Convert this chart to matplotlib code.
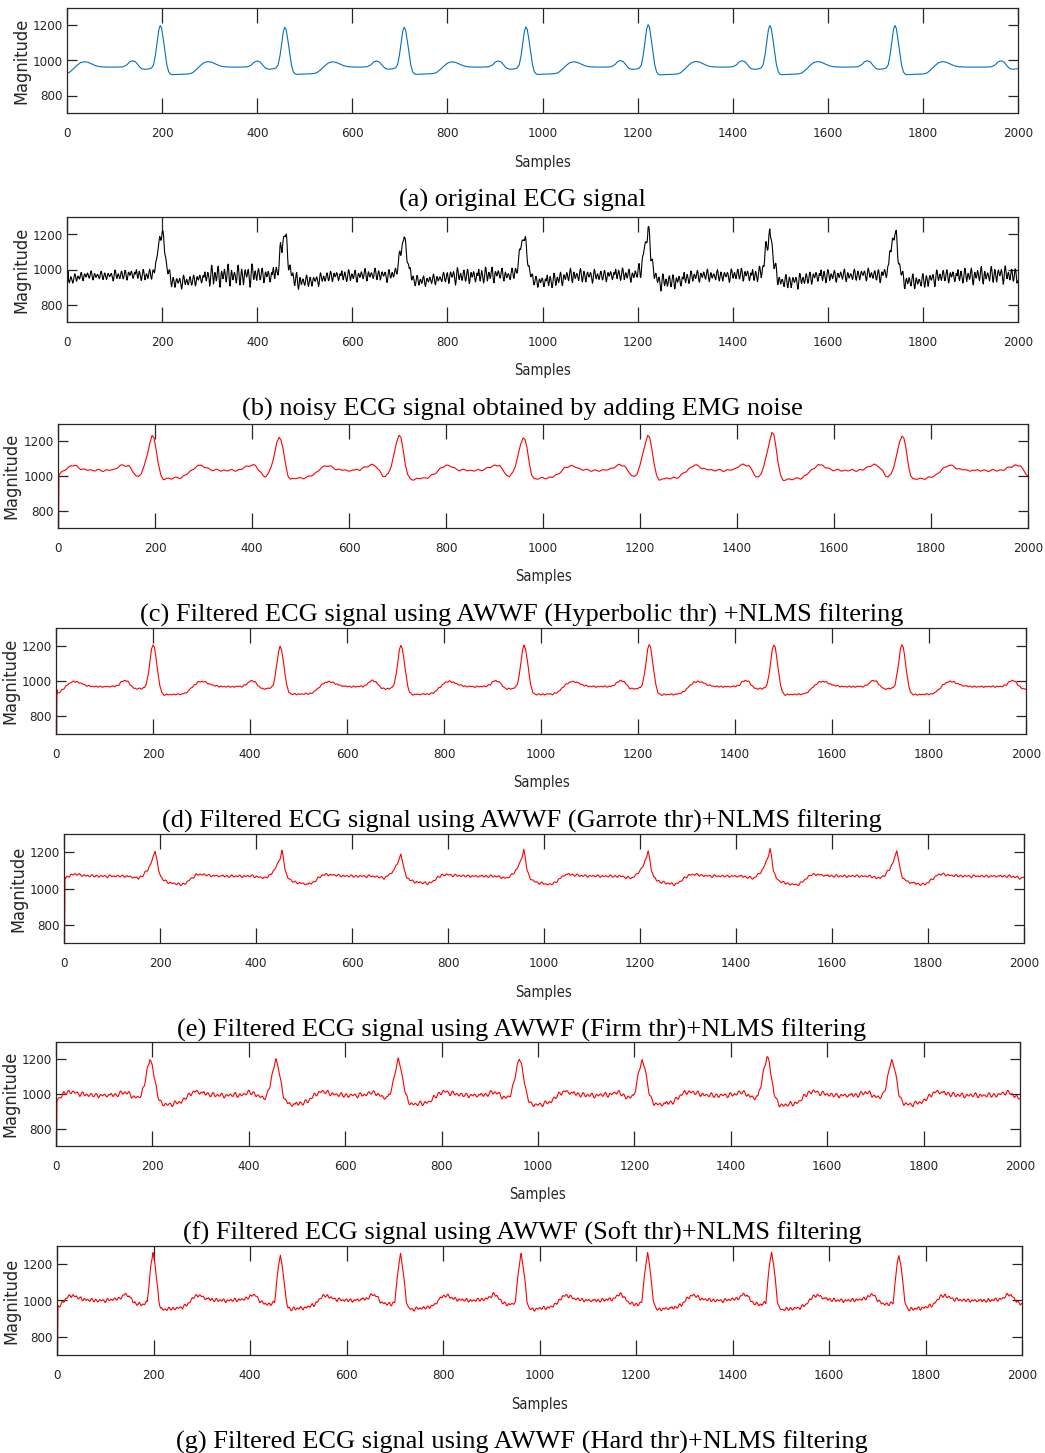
import os
import numpy as np
import matplotlib
matplotlib.use("Agg")
import matplotlib.pyplot as plt
from matplotlib import font_manager as fm

# Figure geometry (pixels)
W, H = 1045, 1453
N = 2000
n = np.arange(N)

# R-peak sample positions and heights for each record
peaks_a = [-64, 196, 458, 709, 965, 1222, 1478, 1741, 2022]
rh_a = [1195, 1200, 1190, 1190, 1192, 1205, 1200, 1200, 1195]
peaks_b = [-64, 200, 458, 709, 961, 1222, 1478, 1741, 2025]
rh_b = [1225, 1230, 1215, 1190, 1210, 1225, 1220, 1230, 1225]
peaks_c = [-68, 194, 456, 703, 959, 1216, 1472, 1740, 2032]
rh_c = [1230, 1230, 1225, 1235, 1225, 1235, 1250, 1235, 1230]
peaks_d = [-62, 200, 462, 711, 965, 1223, 1480, 1744, 2030]
rh_d = [1205, 1208, 1195, 1202, 1202, 1207, 1207, 1207, 1205]
peaks_e = [-72, 190, 454, 702, 958, 1217, 1471, 1735, 2030]
rh_e = [1210, 1210, 1205, 1192, 1210, 1205, 1215, 1210, 1210]
peaks_f = [-67, 195, 456, 710, 961, 1216, 1475, 1734, 2025]
rh_f = [1200, 1200, 1195, 1195, 1205, 1195, 1215, 1195, 1200]
peaks_g = [-63, 199, 463, 712, 962, 1224, 1481, 1745, 2030]
rh_g = [1255, 1260, 1245, 1250, 1255, 1255, 1262, 1250, 1255]

# Single-beat shapes: offset from R peak (samples) and amplitude
off_a = [-95, -78, -70, -64, -58, -52, -46, -40, -34, -24, -18, -14, -10, -6, -3, 0, 3, 6,
         10, 14, 18, 22, 26, 32, 45, 60, 68, 76, 84, 92, 100, 108, 116, 124, 134, 150]
val_a = [962, 964, 975, 992, 998, 992, 972, 955, 950, 952, 958, 975, 1030, 1110, 1170, 1195, 1180, 1130,
         1050, 975, 935, 922, 920, 921, 922, 924, 930, 948, 970, 987, 993, 990, 980, 970, 964, 962]
off_b = [-95, -60, -30, -16, -12, -9, -6, -3, 0, 3, 6, 9, 12, 16, 20, 30, 60, 80, 100, 140]
val_b = [965, 975, 965, 990, 1040, 1120, 1140, 1170, 1225, 1180, 1090, 1030, 1000, 960, 935, 930, 935,
         950, 965, 965]
off_c = [-100, -80, -68, -58, -48, -40, -33, -28, -22, -16, -10, -5, 0, 4, 8, 13, 18, 23, 30, 45, 60,
         72, 84, 96, 106, 118, 132, 150]
val_c = [1032, 1036, 1055, 1062, 1058, 1030, 1000, 995, 1015, 1060, 1125, 1190, 1230, 1215, 1160, 1070,
         1005, 982, 983, 988, 992, 1010, 1040, 1062, 1055, 1040, 1033, 1032]
off_d = off_a
val_d = [968, 970, 980, 998, 1003, 997, 978, 960, 955, 957, 963, 980, 1035, 1115, 1180, 1208, 1190, 1135,
         1050, 975, 935, 924, 922, 923, 924, 926, 933, 952, 975, 992, 998, 994, 984, 975, 970, 968]
off_e = [-100, -60, -45, -35, -25, -15, -8, -3, 0, 3, 7, 12, 18, 25, 35, 45, 55, 65, 75, 85, 95, 120, 150]
val_e = [1068, 1068, 1062, 1056, 1075, 1105, 1145, 1180, 1210, 1170, 1100, 1062, 1045, 1035, 1030, 1025,
         1022, 1032, 1055, 1075, 1078, 1070, 1068]
off_f = [-100, -70, -55, -45, -35, -25, -18, -12, -6, 0, 5, 10, 15, 20, 25, 35, 50, 65, 75, 85, 95, 110,
         130, 150]
val_f = [992, 995, 1010, 1005, 985, 978, 992, 1050, 1140, 1200, 1165, 1080, 1000, 965, 945, 937, 945, 955,
         980, 1005, 1015, 1005, 995, 992]
off_g = [-100, -70, -58, -50, -40, -30, -20, -12, -8, -4, 0, 4, 8, 12, 16, 22, 35, 55, 70, 85, 95, 110,
         130, 150]
val_g = [1000, 1010, 1035, 1025, 990, 980, 978, 992, 1100, 1200, 1255, 1200, 1100, 1000, 960, 950, 955,
         960, 975, 1020, 1030, 1010, 1002, 1000]

# EMG-like disturbance pattern (arbitrary units, about +-10)
emg_noise = [0, 5, 8, 3, -4, -7, -3, 2, 6, 4, -1, -6, -10, -8, -2, 5, 10, 9, 3, -4, -8, -5, 0, 3,
             2, -2, -5, -3, 2, 7, 9, 5, -3, -9, -11, -6, 1, 4, 3, -1, -3, -1, 3, 6, 4, 0, -4, -6,
             -2, 4, 9, 11, 6, -2, -8, -10, -5, 2, 5, 3, -2, -4, -2, 1, 3, 2, -1, -4, -7, -4, 3, 8,
             10, 6, -1, -7, -9, -4, 2, 6, 5, 0, -6, -9, -6, 0, 4, 5, 2, -1, -2, 0, 3, 5, 3, -2,
             -8, -12, -9, -1, 6, 10, 8, 2, -3, -5, -2, 2, 3, 0, -4, -6, -3, 2, 6, 7, 3, -3, -7, -6,
             -1, 4, 8, 7, 2, -5, -10, -8, -2, 3, 4, 1, -2, -1, 2, 5, 4, 0, -5, -8, -6, -1, 3, 2]
# noise envelope of the noisy record, per 100 samples
env_b = [25, 32, 36, 60, 45, 34, 34, 30, 45, 34, 40, 36, 45, 34, 40, 40, 34, 40, 42, 48]

# first samples (start-up transient of the recordings / filters)
onset_b = [855, 930, 990]
onset_c = [650, 650, 1005]
onset_d = [650, 650, 950]
onset_e = [650, 650, 1060]
onset_f = [650, 650, 960]
onset_g = [1070, 650, 960]

x_ticks = list(range(0, 2001, 200))
y_ticks = [800, 1000, 1200]

captions = [
    "(a) original ECG signal",
    "(b) noisy ECG signal obtained by adding EMG noise",
    "(c) Filtered ECG signal using AWWF (Hyperbolic thr) +NLMS filtering",
    "(d) Filtered ECG signal using AWWF (Garrote thr)+NLMS filtering",
    "(e) Filtered ECG signal using AWWF (Firm thr)+NLMS filtering",
    "(f) Filtered ECG signal using AWWF (Soft thr)+NLMS filtering",
    "(g) Filtered ECG signal using AWWF (Hard thr)+NLMS filtering",
]


def emg_track(rate, shift):
    L = len(emg_noise)
    ext = np.append(emg_noise, emg_noise[0])
    pos = (n * rate + shift) % L
    return np.interp(pos, np.arange(L + 1), ext) / 10.0


def ecg_trace(peaks, heights, off, val, onset=None):
    base = val[0]
    r_val = val[off.index(0)]
    sig = np.full(N, float(base))
    dev = np.array(val, dtype=float) - base
    for r, h in zip(peaks, heights):
        k = (h - base) / (r_val - base)
        sig += k * np.interp(n - r, off, dev, left=0.0, right=0.0)
    if onset is not None:
        sig[:len(onset)] = onset
    return sig


def condensed_font():
    # prefer a narrow regular sans face for the axis annotations
    wanted = ["LiberationSansNarrow-Regular.ttf", "DejaVuSansCondensed.ttf",
              "NotoSans-Condensed.ttf", "RobotoCondensed-Regular.ttf"]
    files = {os.path.basename(f.fname): f.fname for f in fm.fontManager.ttflist}
    for name in wanted:
        if name in files:
            return fm.FontProperties(fname=files[name]), True
    return fm.FontProperties(family="Liberation Sans"), False


sig_a = ecg_trace(peaks_a, rh_a, off_a, val_a)
sig_b = ecg_trace(peaks_b, rh_b, off_b, val_b) + np.repeat(env_b, 100) * emg_track(1.0, 0)
sig_b[:len(onset_b)] = onset_b
sig_c = ecg_trace(peaks_c, rh_c, off_c, val_c) + 6 * emg_track(0.45, 13)
sig_c[:len(onset_c)] = onset_c
sig_d = ecg_trace(peaks_d, rh_d, off_d, val_d) + 4 * emg_track(0.9, 40)
sig_d[:len(onset_d)] = onset_d
sig_e = ecg_trace(peaks_e, rh_e, off_e, val_e) + 7 * emg_track(0.8, 25)
sig_e[:len(onset_e)] = onset_e
sig_f = ecg_trace(peaks_f, rh_f, off_f, val_f) + 14 * emg_track(0.75, 60)
sig_f[:len(onset_f)] = onset_f
sig_g = ecg_trace(peaks_g, rh_g, off_g, val_g) + 10 * emg_track(0.9, 7)
sig_g[:len(onset_g)] = onset_g

signals = [sig_a, sig_b, sig_c, sig_d, sig_e, sig_f, sig_g]
colors = ["#0072BD", "#000000", "#FF0000", "#FF0000", "#FF0000", "#FF0000", "#FF0000"]

# panel boxes: left, top, right, bottom (px)
boxes = [(67, 8, 1018, 113), (67, 217, 1018, 322), (58, 424, 1028, 528), (56, 628, 1026, 734),
         (64, 834, 1024, 943), (56, 1042, 1020, 1146), (57, 1246, 1022, 1355)]
ylab_x = [21, 21, 11, 10, 18, 10, 11]

cond, is_narrow = condensed_font()
tick_fp = cond.copy()
tick_fp.set_size(9.5 if is_narrow else 8.5)
xlab_fp = cond.copy()
xlab_fp.set_size(10.5 if is_narrow else 10)
ylab_fp = cond.copy()
ylab_fp.set_size(13 if is_narrow else 11)
serif = ["Liberation Serif", "DejaVu Serif"]
ink = "#262626"

fig = plt.figure(figsize=(W / 100, H / 100), dpi=100)
for i, (sig, col, (l, t, r, b)) in enumerate(zip(signals, colors, boxes)):
    ax = fig.add_axes([l / W, 1 - b / H, (r - l) / W, (b - t) / H])
    ax.plot(n, sig, color=col, lw=0.8)
    ax.set_xlim(0, 2000)
    ax.set_ylim(700, 1300)
    ax.set_xticks(x_ticks)
    ax.set_yticks(y_ticks)
    ax.tick_params(axis="x", direction="in", top=True, length=11, width=0.9, pad=10, colors=ink)
    ax.tick_params(axis="y", direction="in", right=True, length=7, width=0.9, pad=3, colors=ink)
    for lab in ax.get_xticklabels() + ax.get_yticklabels():
        lab.set_fontproperties(tick_fp)
    for sp in ax.spines.values():
        sp.set_color(ink)
        sp.set_linewidth(0.9)

    fig.text(ylab_x[i] / W, 1 - (t + b) / 2 / H, "Magnitude", rotation=90, ha="center", va="center",
             fontproperties=ylab_fp, color=ink)
    fig.text((l + r) / 2 / W, 1 - (b + 49) / H, "Samples", ha="center", va="center",
             fontproperties=xlab_fp, color=ink)
    fig.text(522 / W, 1 - (b + 87) / H, captions[i], ha="center", va="center",
             fontsize=19, family=serif, color="black")

fig.savefig("out.png", dpi=100)
